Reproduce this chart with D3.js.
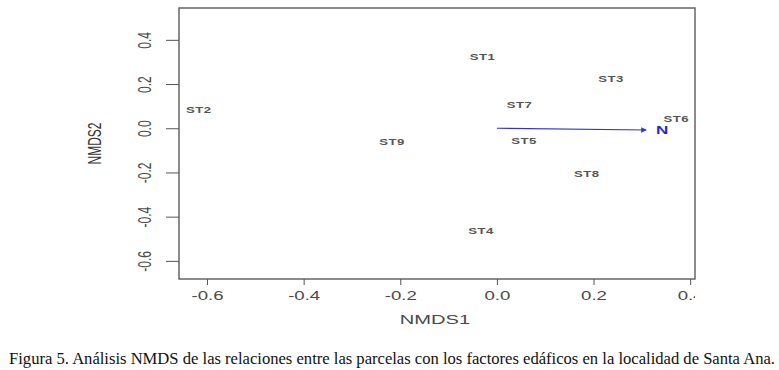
<!DOCTYPE html>
<html>
<head>
<meta charset="utf-8">
<script src="https://cdn.jsdelivr.net/npm/d3@7"></script>
<style>
  body { margin: 0; background: #fff; }
  svg { display: block; }
</style>
</head>
<body>
<svg id="chart" width="779" height="370"></svg>
<script>
// site scores (NMDS1, NMDS2)
const siteNames = ["ST1", "ST2", "ST3", "ST4", "ST5", "ST6", "ST7", "ST8", "ST9"];
const siteX = [-0.030, -0.617, 0.236, -0.033, 0.056, 0.371, 0.047, 0.186, -0.217];
const siteY = [0.323, 0.083, 0.224, -0.465, -0.057, 0.042, 0.104, -0.205, -0.061];

// fitted vector
const vectorName = "N";
const vectorEnd = [0.309, -0.008];
const vectorLabel = [0.342, -0.008];

const xTicks = [-0.6, -0.4, -0.2, 0.0, 0.2, 0.4];
const yTicks = [-0.6, -0.4, -0.2, 0.0, 0.2, 0.4];

const caption =
  "Figura 5. Análisis NMDS de las relaciones entre las parcelas con los factores edáficos en la localidad de Santa Ana.";

const svg = d3.select("#chart");
const plotLeft = 179, plotRight = 695, plotTop = 8, plotBottom = 279;
const stretch = 1.55; // the source figure is stretched sideways
const textColor = "#4a4a4a";
const tickFormat = (d) => d.toFixed(1); // plain hyphen, as R prints it

const xScale = d3.scaleLinear().domain([-0.658, 0.41]).range([plotLeft, plotRight]);
const yScale = d3.scaleLinear().domain([-0.682, 0.544]).range([plotBottom, plotTop]);

const defs = svg.append("defs");
defs.append("clipPath").attr("id", "cut-right")
  .append("rect").attr("x", -800).attr("y", -50).attr("width", 800 + plotRight).attr("height", 200);
defs.append("clipPath").attr("id", "cut-title")
  .append("rect").attr("x", 0).attr("y", 0).attr("width", 779).attr("height", 324);
defs.append("marker")
  .attr("id", "arrow")
  .attr("viewBox", "0 0 10 10")
  .attr("refX", 9).attr("refY", 5)
  .attr("markerWidth", 6).attr("markerHeight", 5)
  .attr("orient", "auto")
  .append("path").attr("d", "M0,0 L10,5 L0,10 Z").attr("fill", "#3434c8");

// x axis
const xAxis = svg.append("g")
  .attr("transform", "translate(0," + plotBottom + ")")
  .call(d3.axisBottom(xScale).tickValues(xTicks).tickSize(6).tickFormat(tickFormat));
xAxis.attr("clip-path", "url(#cut-right)");
xAxis.select(".domain").remove();
xAxis.selectAll("line").attr("stroke", "#555");
xAxis.selectAll("text")
  .attr("y", null).attr("dy", null)
  .attr("transform", "translate(0,21) scale(" + stretch + ",1)")
  .attr("fill", textColor)
  .style("font-family", "Arial, 'Liberation Sans', sans-serif")
  .style("font-size", "12px");

// y axis
const yAxis = svg.append("g")
  .attr("transform", "translate(" + plotLeft + ",0)")
  .call(d3.axisLeft(yScale).tickValues(yTicks).tickSize(13).tickFormat(tickFormat));
yAxis.select(".domain").remove();
yAxis.selectAll("line").attr("stroke", "#555");
yAxis.selectAll("text")
  .attr("x", null).attr("dy", null)
  .attr("text-anchor", "middle")
  .attr("transform", "translate(-28,0) scale(" + stretch + ",1) rotate(-90)")
  .attr("fill", textColor)
  .style("font-family", "Arial, 'Liberation Sans', sans-serif")
  .style("font-size", "12px");

// plot box
svg.append("rect")
  .attr("x", plotLeft).attr("y", plotTop)
  .attr("width", plotRight - plotLeft).attr("height", plotBottom - plotTop)
  .attr("fill", "none")
  .attr("stroke", "#5a5a5a")
  .attr("stroke-width", 1.4);

// axis titles
svg.append("g").attr("clip-path", "url(#cut-title)")
  .append("text")
  .attr("text-anchor", "middle")
  .attr("transform", "translate(" + ((plotLeft + plotRight) / 2 - 2) + ",324) scale(" + stretch + ",1)")
  .attr("fill", textColor)
  .style("font-family", "Arial, 'Liberation Sans', sans-serif")
  .style("font-size", "13px")
  .text("NMDS1");

svg.append("text")
  .attr("text-anchor", "middle")
  .attr("transform", "translate(101," + (plotTop + plotBottom) / 2 + ") scale(" + stretch + ",1) rotate(-90)")
  .attr("fill", "#333")
  .style("font-family", "Arial, 'Liberation Sans', sans-serif")
  .style("font-size", "12px")
  .text("NMDS2");

// vector arrow
svg.append("line")
  .attr("x1", xScale(0)).attr("y1", yScale(0))
  .attr("x2", xScale(vectorEnd[0])).attr("y2", yScale(vectorEnd[1]))
  .attr("stroke", "#3434c8")
  .attr("stroke-width", 1.1)
  .attr("marker-end", "url(#arrow)");

svg.append("text")
  .attr("text-anchor", "middle")
  .attr("dominant-baseline", "central")
  .attr("transform", "translate(" + xScale(vectorLabel[0]) + "," + yScale(vectorLabel[1]) + ") scale(" + stretch + ",1)")
  .attr("fill", "#2828c0")
  .style("font-family", "Arial, 'Liberation Sans', sans-serif")
  .style("font-size", "11px")
  .style("font-weight", "bold")
  .text(vectorName);

// site labels
const sites = siteNames.map((name, i) => ({ name, x: siteX[i], y: siteY[i] }));
svg.append("g")
  .selectAll("text")
  .data(sites)
  .enter()
  .append("text")
  .attr("text-anchor", "middle")
  .attr("dominant-baseline", "central")
  .attr("transform", (d) => "translate(" + xScale(d.x) + "," + yScale(d.y) + ") scale(" + stretch + ",1)")
  .attr("fill", "#555")
  .style("font-family", "Arial, 'Liberation Sans', sans-serif")
  .style("font-size", "8.5px")
  .style("font-weight", "bold")
  .style("letter-spacing", "0.3px")
  .text((d) => d.name);

// caption
svg.append("text")
  .attr("x", 9)
  .attr("y", 364)
  .attr("textLength", 766)
  .attr("lengthAdjust", "spacingAndGlyphs")
  .attr("fill", "#111")
  .style("font-family", "'Liberation Serif', 'Times New Roman', serif")
  .style("font-size", "16px")
  .text(caption);
</script>
</body>
</html>
